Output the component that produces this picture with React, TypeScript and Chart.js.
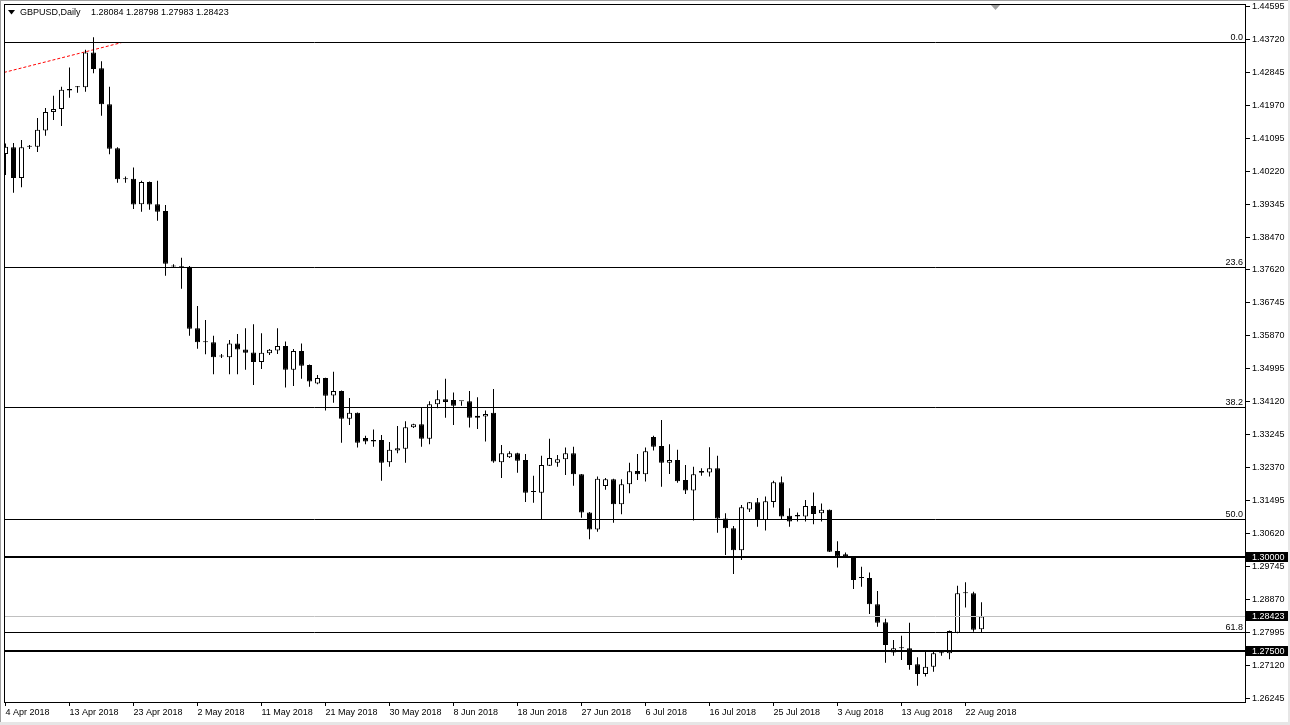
import React, { useEffect, useRef } from "react";
import { Chart, registerables } from "chart.js";

Chart.register(...registerables);

// ---------- data ----------
const dates: string[] = [
  "4 Apr 2018","5 Apr 2018","6 Apr 2018","8 Apr 2018","9 Apr 2018","10 Apr 2018","11 Apr 2018","12 Apr 2018","13 Apr 2018","15 Apr 2018",
  "16 Apr 2018","17 Apr 2018","18 Apr 2018","19 Apr 2018","20 Apr 2018","22 Apr 2018","23 Apr 2018","24 Apr 2018","25 Apr 2018","26 Apr 2018",
  "27 Apr 2018","29 Apr 2018","30 Apr 2018","1 May 2018","2 May 2018","3 May 2018","4 May 2018","6 May 2018","7 May 2018","8 May 2018",
  "9 May 2018","10 May 2018","11 May 2018","13 May 2018","14 May 2018","15 May 2018","16 May 2018","17 May 2018","18 May 2018","20 May 2018",
  "21 May 2018","22 May 2018","23 May 2018","24 May 2018","25 May 2018","27 May 2018","28 May 2018","29 May 2018","30 May 2018","31 May 2018",
  "1 Jun 2018","3 Jun 2018","4 Jun 2018","5 Jun 2018","6 Jun 2018","7 Jun 2018","8 Jun 2018","10 Jun 2018","11 Jun 2018","12 Jun 2018",
  "13 Jun 2018","14 Jun 2018","15 Jun 2018","17 Jun 2018","18 Jun 2018","19 Jun 2018","20 Jun 2018","21 Jun 2018","22 Jun 2018","24 Jun 2018",
  "25 Jun 2018","26 Jun 2018","27 Jun 2018","28 Jun 2018","29 Jun 2018","1 Jul 2018","2 Jul 2018","3 Jul 2018","4 Jul 2018","5 Jul 2018",
  "6 Jul 2018","8 Jul 2018","9 Jul 2018","10 Jul 2018","11 Jul 2018","12 Jul 2018","13 Jul 2018","15 Jul 2018","16 Jul 2018","17 Jul 2018",
  "18 Jul 2018","19 Jul 2018","20 Jul 2018","22 Jul 2018","23 Jul 2018","24 Jul 2018","25 Jul 2018","26 Jul 2018","27 Jul 2018","29 Jul 2018",
  "30 Jul 2018","31 Jul 2018","1 Aug 2018","2 Aug 2018","3 Aug 2018","5 Aug 2018","6 Aug 2018","7 Aug 2018","8 Aug 2018","9 Aug 2018",
  "10 Aug 2018","12 Aug 2018","13 Aug 2018","14 Aug 2018","15 Aug 2018","16 Aug 2018","17 Aug 2018","19 Aug 2018","20 Aug 2018","21 Aug 2018",
  "22 Aug 2018","23 Aug 2018","24 Aug 2018",
];

const opens: number[] = [
  1.4068,1.4086,1.4004,1.4087,1.4087,1.4130,1.4179,1.4187,1.4240,1.4245,
  1.4245,1.4337,1.4295,1.4200,1.4083,1.4001,1.4002,1.3935,1.3994,1.3935,
  1.3917,1.3770,1.3770,1.3769,1.3606,1.3569,1.3569,1.3531,1.3529,1.3566,
  1.3550,1.3542,1.3517,1.3540,1.3547,1.3559,1.3496,1.3546,1.3509,1.3460,
  1.3474,1.3428,1.3440,1.3366,1.3382,1.3315,1.3310,1.3310,1.3251,1.3282,
  1.3287,1.3344,1.3352,1.3313,1.3405,1.3418,1.3416,1.3413,1.3413,1.3374,
  1.3372,1.3382,1.3251,1.3264,1.3275,1.3257,1.3172,1.3170,1.3242,1.3250,
  1.3259,1.3275,1.3219,1.3118,1.3073,1.3188,1.3206,1.3140,1.3193,1.3228,
  1.3219,1.3318,1.3294,1.3250,1.3257,1.3204,1.3176,1.3228,1.3224,1.3235,
  1.3102,1.3076,1.3018,1.3126,1.3145,1.3098,1.3146,1.3198,1.3109,1.3111,
  1.3107,1.3135,1.3116,1.3125,1.3016,1.3007,1.3001,1.2944,1.2944,1.2875,
  1.2827,1.2747,1.2758,1.2758,1.2716,1.2690,1.2709,1.2745,1.2745,1.2799,
  1.2904,1.2904,1.28084,
];

const highs: number[] = [
  1.4096,1.4097,1.4105,1.4092,1.4163,1.4190,1.4222,1.4246,1.4297,1.4248,
  1.4344,1.4377,1.4314,1.4246,1.4086,1.4008,1.4032,1.3997,1.3995,1.3997,
  1.3933,1.3776,1.3793,1.3771,1.3665,1.3628,1.3586,1.3538,1.3575,1.3591,
  1.3606,1.3617,1.3593,1.3551,1.3606,1.3571,1.3551,1.3566,1.3510,1.3482,
  1.3475,1.3491,1.3441,1.3421,1.3383,1.3321,1.3338,1.3323,1.3305,1.3347,
  1.3360,1.3353,1.3397,1.3413,1.3442,1.3472,1.3436,1.3413,1.3440,1.3423,
  1.3388,1.3445,1.3297,1.3280,1.3276,1.3273,1.3215,1.3268,1.3313,1.3270,
  1.3290,1.3292,1.3220,1.3119,1.3213,1.3209,1.3207,1.3206,1.3250,1.3273,
  1.3290,1.3321,1.3363,1.3299,1.3284,1.3244,1.3239,1.3235,1.3291,1.3268,
  1.3116,1.3082,1.3138,1.3146,1.3156,1.3160,1.3202,1.3213,1.3129,1.3118,
  1.3151,1.3171,1.3142,1.3126,1.3042,1.3012,1.3002,1.2974,1.2959,1.2910,
  1.2836,1.2780,1.2791,1.2826,1.2734,1.2749,1.2751,1.2751,1.2805,1.2924,
  1.2933,1.2908,1.28798,
];

const lows: number[] = [
  1.4012,1.3965,1.3980,1.4081,1.4073,1.4116,1.4158,1.4142,1.4217,1.4230,
  1.4233,1.4282,1.4169,1.4067,1.3992,1.3992,1.3922,1.3915,1.3920,1.3891,
  1.3745,1.3768,1.3711,1.3586,1.3552,1.3537,1.3484,1.3527,1.3484,1.3484,
  1.3496,1.3456,1.3498,1.3535,1.3538,1.3449,1.3453,1.3472,1.3451,1.3458,
  1.3388,1.3409,1.3303,1.3350,1.3290,1.3299,1.3292,1.3202,1.3239,1.3275,
  1.3250,1.3342,1.3292,1.3299,1.3394,1.3369,1.3350,1.3401,1.3343,1.3339,
  1.3306,1.3250,1.3209,1.3262,1.3223,1.3146,1.3144,1.3098,1.3241,1.3239,
  1.3217,1.3189,1.3104,1.3047,1.3067,1.3178,1.3091,1.3113,1.3169,1.3204,
  1.3200,1.3282,1.3186,1.3220,1.3197,1.3167,1.3097,1.3215,1.3213,1.3064,
  1.3005,1.2955,1.2992,1.3119,1.3080,1.3070,1.3131,1.3098,1.3080,1.3094,
  1.3094,1.3087,1.3094,1.3013,1.2972,1.2997,1.2915,1.2921,1.2849,1.2815,
  1.2720,1.2738,1.2727,1.2701,1.2659,1.2683,1.2696,1.2738,1.2729,1.2798,
  1.2866,1.2802,1.27983,
];

const closes: number[] = [
  1.4087,1.4004,1.4086,1.4087,1.4132,1.4179,1.4187,1.4238,1.4236,1.4245,
  1.4337,1.4293,1.4200,1.4082,1.4001,1.4001,1.3934,1.3994,1.3934,1.3915,
  1.3777,1.3770,1.3768,1.3605,1.3569,1.3569,1.3529,1.3531,1.3566,1.3550,
  1.3541,1.3517,1.3541,1.3549,1.3559,1.3496,1.3546,1.3507,1.3465,1.3474,
  1.3427,1.3440,1.3366,1.3382,1.3303,1.3306,1.3306,1.3250,1.3284,1.3288,
  1.3344,1.3352,1.3313,1.3405,1.3418,1.3411,1.3401,1.3413,1.3369,1.3369,
  1.3379,1.3253,1.3275,1.3275,1.3255,1.3170,1.3172,1.3244,1.3262,1.3259,
  1.3275,1.3219,1.3118,1.3073,1.3207,1.3206,1.3140,1.3193,1.3227,1.3219,
  1.3280,1.3292,1.3250,1.3257,1.3201,1.3176,1.3219,1.3223,1.3235,1.3102,
  1.3076,1.3018,1.3132,1.3145,1.3098,1.3148,1.3198,1.3107,1.3094,1.3107,
  1.3135,1.3114,1.3125,1.3014,1.3001,1.3001,1.2939,1.2944,1.2875,1.2826,
  1.2767,1.2758,1.2758,1.2714,1.2690,1.2709,1.2745,1.2745,1.2804,1.2904,
  1.2904,1.2807,1.28423,
];

// price-axis tick labels
const yTicks: number[] = [
  1.44595, 1.4372, 1.42845, 1.4197, 1.41095, 1.4022, 1.39345, 1.3847, 1.3762, 1.36745, 1.3587,
  1.34995, 1.3412, 1.33245, 1.3237, 1.31495, 1.3062, 1.29745, 1.2887, 1.27995, 1.2712, 1.26245,
];
// time-axis ticks (bar indices that carry a date label)
const xTickIdx: number[] = [0, 8, 16, 24, 32, 40, 48, 56, 64, 72, 80, 88, 96, 104, 112, 120];

// Fibonacci levels
const fibLabels: string[] = ["0.0", "23.6", "38.2", "50.0", "61.8"];
const fibPrices: number[] = [1.4364, 1.3767, 1.3397, 1.3098, 1.28];
// thick horizontal levels
const levelPrices: number[] = [1.3, 1.275];
// red dotted trendline
const trendX: number[] = [-0.19, 14.5];
const trendY: number[] = [1.4284, 1.4363];

const title = "GBPUSD,Daily";
const titleValues = "1.28084 1.28798 1.27983 1.28423";

// axis ranges
const X_MIN = -0.1875;
const X_MAX = 155.0625;
const Y_MIN = 1.261305;
const Y_MAX = 1.44654;

const FAM = '"Liberation Sans", Arial, sans-serif';
const FONT = `9px ${FAM}`;

const mtPlugin = {
  id: "mt4",
  afterDatasetsDraw(chart: any) {
    const { ctx, chartArea: a } = chart;
    const y = chart.scales.y;
    ctx.save();
    // current price line (gray)
    const last = closes[closes.length - 1];
    let py = Math.floor(y.getPixelForValue(last)) + 0.5;
    ctx.strokeStyle = "#c0c0c0";
    ctx.lineWidth = 1;
    ctx.beginPath();
    ctx.moveTo(a.left, py);
    ctx.lineTo(a.right, py);
    ctx.stroke();
    // fib lines
    ctx.font = FONT;
    ctx.textAlign = "right";
    ctx.textBaseline = "alphabetic";
    fibPrices.forEach((p, i) => {
      const yy = Math.floor(y.getPixelForValue(p)) + 0.5;
      ctx.strokeStyle = "#000";
      ctx.lineWidth = 1;
      ctx.beginPath();
      ctx.moveTo(a.left, yy);
      ctx.lineTo(a.right, yy);
      ctx.stroke();
      ctx.fillStyle = "#000";
      ctx.fillText(fibLabels[i], a.right - 3, yy - 3);
    });
    // thick levels
    levelPrices.forEach((p) => {
      const yy = Math.round(y.getPixelForValue(p));
      ctx.strokeStyle = "#000";
      ctx.lineWidth = 2;
      ctx.beginPath();
      ctx.moveTo(a.left, yy);
      ctx.lineTo(a.right, yy);
      ctx.stroke();
    });
    ctx.restore();
  },
  afterDraw(chart: any) {
    const { ctx, chartArea: a } = chart;
    const y = chart.scales.y;
    const W = chart.width;
    const H = chart.height;
    ctx.save();
    // chart frame
    ctx.strokeStyle = "#000";
    ctx.lineWidth = 1;
    ctx.strokeRect(a.left + 0.5, a.top + 0.5, a.right - a.left - 1, a.bottom - a.top - 1);
    // price boxes
    const boxes = [levelPrices[0], closes[closes.length - 1], levelPrices[1]];
    ctx.font = FONT;
    ctx.textAlign = "left";
    ctx.textBaseline = "middle";
    boxes.forEach((p) => {
      const yy = Math.round(y.getPixelForValue(p));
      ctx.fillStyle = "#000";
      ctx.fillRect(a.right, yy - 5, W - 2 - a.right, 10);
      ctx.fillStyle = "#fff";
      ctx.fillText(p.toFixed(5), a.right + 6, yy + 0.5);
    });
    // title
    ctx.fillStyle = "#000";
    ctx.beginPath();
    ctx.moveTo(8, 10);
    ctx.lineTo(15, 10);
    ctx.lineTo(11.5, 14.5);
    ctx.closePath();
    ctx.fill();
    ctx.textBaseline = "middle";
    ctx.fillText(title, 20, 13);
    ctx.fillText(titleValues, 91, 13);
    // chart-shift marker
    ctx.fillStyle = "#a0a0a0";
    ctx.beginPath();
    ctx.moveTo(991, 5);
    ctx.lineTo(1000, 5);
    ctx.lineTo(995.5, 10);
    ctx.closePath();
    ctx.fill();
    // window border
    ctx.fillStyle = "#a0a0a0";
    ctx.fillRect(0, 0, W, 1);
    ctx.fillRect(0, 0, 1, H);
    ctx.fillStyle = "#e6e6e6";
    ctx.fillRect(0, H - 3, W, 3);
    ctx.fillRect(W - 2, 0, 2, H);
    ctx.restore();
  },
};

export default function App() {
  const ref = useRef<HTMLCanvasElement | null>(null);

  useEffect(() => {
    if (!ref.current) return;
    const idx = opens.map((_, i) => i);
    const chart = new Chart(ref.current, {
      type: "bar",
      data: {
        datasets: [
          {
            type: "bar",
            label: "body",
            data: idx.map((i) => ({ x: i, y: [opens[i], closes[i]] })) as any,
            backgroundColor: idx.map((i) => (closes[i] > opens[i] ? "#ffffff" : "#000000")),
            borderColor: "#000000",
            borderWidth: 1,
            borderSkipped: false,
            barThickness: 5,
            minBarLength: 1,
            grouped: false,
            inflateAmount: 0,
            order: 0,
          } as any,
          {
            type: "bar",
            label: "wick",
            data: idx.map((i) => ({ x: i, y: [lows[i], highs[i]] })) as any,
            backgroundColor: "#000000",
            borderWidth: 0,
            barThickness: 1,
            grouped: false,
            inflateAmount: 0,
            order: 1,
          } as any,
          {
            type: "line",
            label: "trend",
            data: trendX.map((x, i) => ({ x, y: trendY[i] })) as any,
            borderColor: "#ff0000",
            borderWidth: 1,
            borderDash: [3, 2],
            pointRadius: 0,
            tension: 0,
            order: 2,
          } as any,
        ],
      },
      options: {
        responsive: false,
        devicePixelRatio: 1,
        animation: false,
        events: [],
        layout: { padding: { left: 4, top: 4, right: 0, bottom: 0 } },
        plugins: { legend: { display: false }, tooltip: { enabled: false }, title: { display: false } },
        scales: {
          x: {
            type: "linear",
            position: "bottom",
            min: X_MIN,
            max: X_MAX,
            offset: false,
            afterBuildTicks: (s: any) => {
              s.ticks = xTickIdx.map((v) => ({ value: v }));
            },
            afterFit: (s: any) => {
              s.height = 22;
              s.paddingLeft = 0;
              s.paddingRight = 0;
            },
            grid: { offset: false, drawOnChartArea: false, drawTicks: true, tickLength: 3, color: "#000", lineWidth: 1 },
            border: { display: false },
            ticks: {
              autoSkip: false,
              maxRotation: 0,
              minRotation: 0,
              align: "start",
              padding: 1,
              color: "#000",
              font: { family: FAM, size: 9 },
              callback: (v: any) => dates[Math.round(Number(v))] ?? "",
            },
          } as any,
          y: {
            type: "linear",
            position: "right",
            min: Y_MIN,
            max: Y_MAX,
            beginAtZero: false,
            afterBuildTicks: (s: any) => {
              s.ticks = yTicks.map((v) => ({ value: v }));
            },
            afterFit: (s: any) => {
              s.width = 44;
              s.paddingTop = 0;
              s.paddingBottom = 0;
            },
            grid: { drawOnChartArea: false, drawTicks: true, tickLength: 4, color: "#000", lineWidth: 1 },
            border: { display: false },
            ticks: {
              autoSkip: false,
              padding: 2,
              color: "#000",
              font: { family: FAM, size: 9 },
              callback: (v: any) => Number(v).toFixed(5),
            },
          } as any,
        },
      },
      plugins: [mtPlugin as any],
    });
    return () => chart.destroy();
  }, []);

  return (
    <div style={{ position: "fixed", left: 0, top: 0, width: 1290, height: 725, background: "#fff" }}>
      <canvas ref={ref} width={1290} height={725} style={{ width: 1290, height: 725, display: "block" }} />
    </div>
  );
}
